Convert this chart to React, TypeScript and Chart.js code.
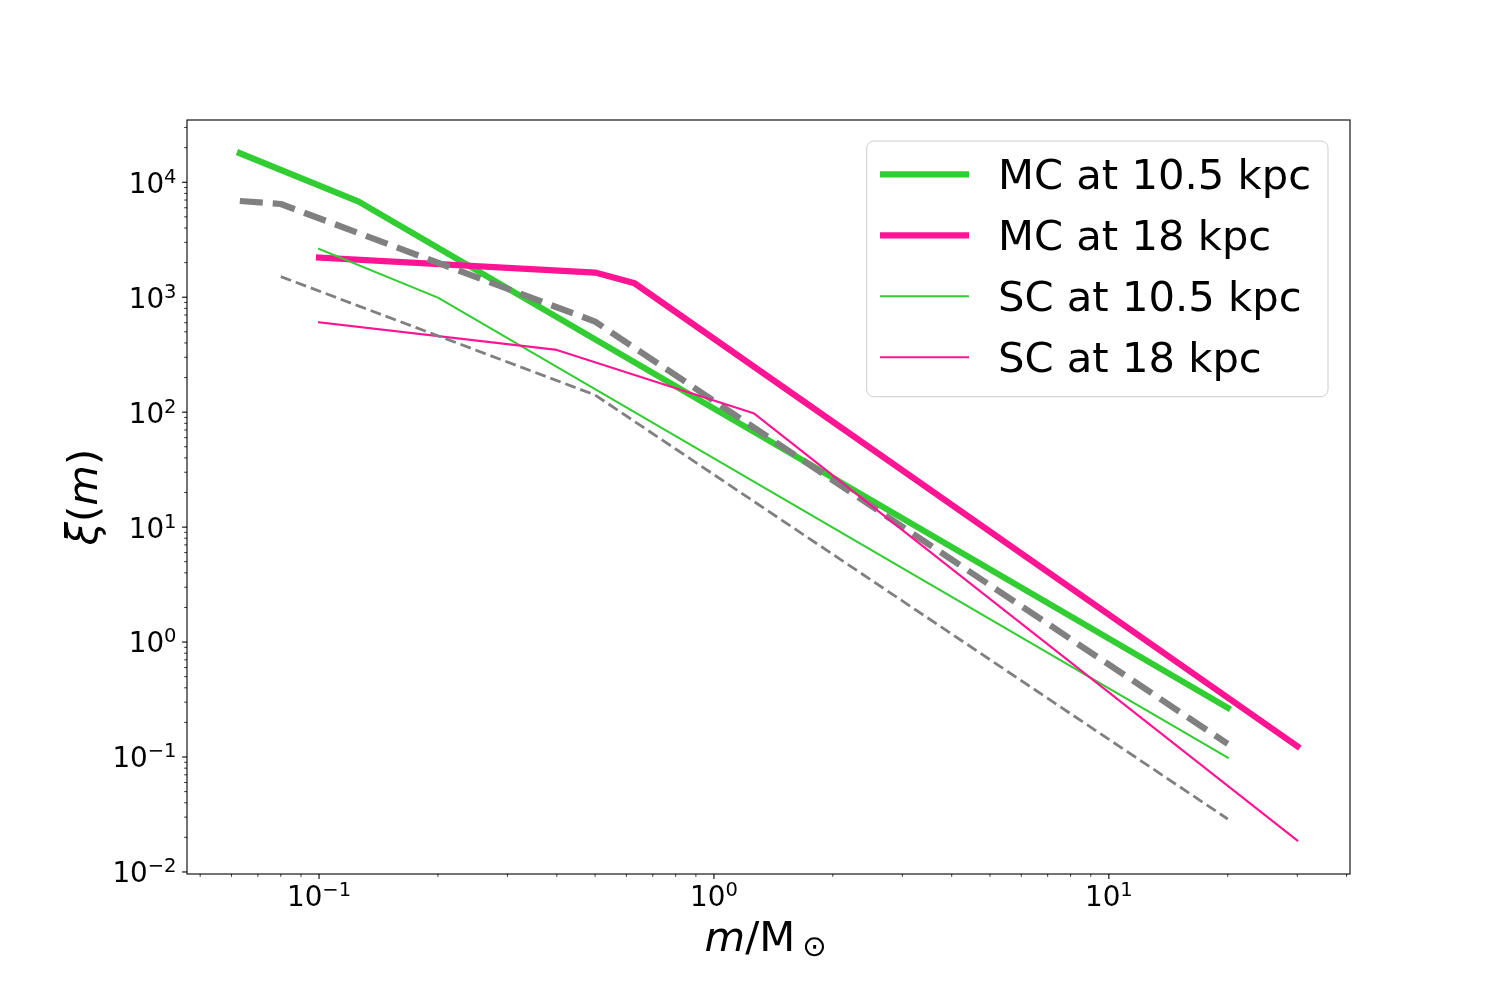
import React, { useEffect, useRef } from 'react';
import { Chart, registerables } from 'chart.js';

Chart.register(...registerables);

// mass (M_sun) and xi(m), vertex by vertex
const mcMass105 = [0.063, 0.126, 20];
const mcXi105 = [17900, 6780, 0.268];

const mcMass18 = [0.1, 0.5, 0.63, 30];
const mcXi18 = [2210, 1640, 1320, 0.124];

const refMassThick = [0.063, 0.08, 0.5, 20];
const refXiThick = [6870, 6470, 614, 0.13];

const scMass105 = [0.1, 0.2, 20];
const scXi105 = [2630, 992, 0.099];

const scMass18 = [0.1, 0.4, 1.26, 30];
const scXi18 = [606, 348, 98, 0.0188];

const refMassThin = [0.08, 0.5, 20];
const refXiThin = [1510, 141, 0.0289];

const legendLabels = ['MC at 10.5 kpc', 'MC at 18 kpc', 'SC at 10.5 kpc', 'SC at 18 kpc'];
const xMajorExps = [-1, 0, 1];
const yMajorExps = [-2, -1, 0, 1, 2, 3, 4];

const X_MIN = 0.0463;
const X_MAX = 40.8;
const Y_MIN = 0.0096;
const Y_MAX = 34800;

const GREEN = '#32cd32';
const PINK = '#ff1493';
const GRAY = '#808080';
const FONT = '"DejaVu Sans", "Liberation Sans", sans-serif';

const toPoints = (xs: number[], ys: number[]) => xs.map((x, i) => ({ x, y: ys[i] }));

const supText = (e: number) => (e < 0 ? '\u2212' + Math.abs(e) : String(e));

function drawPow(ctx: CanvasRenderingContext2D, exp: number, ax: number, base: number, align: 'center' | 'right') {
  ctx.font = `27.8px ${FONT}`;
  const wb = ctx.measureText('10').width;
  ctx.font = `19.5px ${FONT}`;
  const sup = supText(exp);
  const ws = ctx.measureText(sup).width;
  const total = wb + ws;
  const start = align === 'center' ? ax - total / 2 : ax - total;
  ctx.textAlign = 'left';
  ctx.textBaseline = 'alphabetic';
  ctx.font = `27.8px ${FONT}`;
  ctx.fillText('10', start, base);
  ctx.font = `19.5px ${FONT}`;
  ctx.fillText(sup, start + wb, base - 10);
}

const decorPlugin = {
  id: 'decor',
  afterDraw(chart: any) {
    const { ctx, chartArea: a, scales } = chart;
    const xs = scales.x;
    const ys = scales.y;
    ctx.save();
    ctx.strokeStyle = '#000';
    ctx.fillStyle = '#000';

    // ticks, outside the frame
    for (let k = -3; k <= 5; k++) {
      for (let j = 1; j <= 9; j++) {
        const v = j * Math.pow(10, k);
        const len = j === 1 ? 4.9 : 2.8;
        ctx.lineWidth = j === 1 ? 1.1 : 0.8;
        if (v >= X_MIN && v <= X_MAX) {
          const px = xs.getPixelForValue(v);
          ctx.beginPath();
          ctx.moveTo(px, a.bottom);
          ctx.lineTo(px, a.bottom + len);
          ctx.stroke();
        }
        if (v >= Y_MIN && v <= Y_MAX) {
          const py = ys.getPixelForValue(v);
          ctx.beginPath();
          ctx.moveTo(a.left, py);
          ctx.lineTo(a.left - len, py);
          ctx.stroke();
        }
      }
    }

    // frame
    ctx.lineWidth = 1.1;
    ctx.strokeRect(a.left, a.top, a.right - a.left, a.bottom - a.top);

    // tick labels
    xMajorExps.forEach((e) => {
      drawPow(ctx, e, xs.getPixelForValue(Math.pow(10, e)), a.bottom + 31.7, 'center');
    });
    yMajorExps.forEach((e) => {
      drawPow(ctx, e, a.left - 10.5, ys.getPixelForValue(Math.pow(10, e)) + 10.4, 'right');
    });

    // x label: m/M_sun
    const cx = (a.left + a.right) / 2;
    ctx.textAlign = 'left';
    ctx.textBaseline = 'alphabetic';
    ctx.font = `italic 41.7px ${FONT}`;
    const wm = ctx.measureText('m').width;
    ctx.font = `41.7px ${FONT}`;
    const wM = ctx.measureText('/M').width;
    ctx.font = `29px ${FONT}`;
    const wo = ctx.measureText('\u2299').width;
    const gap = 7;
    const x0 = cx - (wm + wM + gap + wo) / 2 - 3;
    const xb = 950.7;
    ctx.font = `italic 41.7px ${FONT}`;
    ctx.fillText('m', x0, xb);
    ctx.font = `41.7px ${FONT}`;
    ctx.fillText('/M', x0 + wm, xb);
    ctx.font = `29px ${FONT}`;
    ctx.fillText('\u2299', x0 + wm + wM + gap, xb + 5.5);

    // y label: xi(m), rotated
    ctx.save();
    ctx.translate(97, (a.top + a.bottom) / 2);
    ctx.rotate(-Math.PI / 2);
    const parts: [string, boolean][] = [['\u03be', true], ['(', false], ['m', true], [')', false]];
    const widths = parts.map(([t, it]) => {
      ctx.font = `${it ? 'italic ' : ''}41.7px ${FONT}`;
      return ctx.measureText(t).width;
    });
    let px = -widths.reduce((s, w) => s + w, 0) / 2;
    parts.forEach(([t, it], i) => {
      ctx.font = `${it ? 'italic ' : ''}41.7px ${FONT}`;
      ctx.fillText(t, px, 0);
      px += widths[i];
    });
    ctx.restore();

    // legend
    const bx = 866.7, by = 141, bw = 461.3, bh = 255.7, r = 7;
    ctx.beginPath();
    ctx.moveTo(bx + r, by);
    ctx.arcTo(bx + bw, by, bx + bw, by + bh, r);
    ctx.arcTo(bx + bw, by + bh, bx, by + bh, r);
    ctx.arcTo(bx, by + bh, bx, by, r);
    ctx.arcTo(bx, by, bx + bw, by, r);
    ctx.closePath();
    ctx.fillStyle = 'rgba(255,255,255,0.8)';
    ctx.fill();
    ctx.strokeStyle = '#cccccc';
    ctx.lineWidth = 1;
    ctx.stroke();

    const handles = [
      { color: GREEN, width: 6.25 },
      { color: PINK, width: 6.25 },
      { color: GREEN, width: 2.1 },
      { color: PINK, width: 2.1 },
    ];
    legendLabels.forEach((label, i) => {
      const cy = 174.3 + i * 61;
      ctx.beginPath();
      ctx.strokeStyle = handles[i].color;
      ctx.lineWidth = handles[i].width;
      ctx.lineCap = 'butt';
      ctx.moveTo(880, cy);
      ctx.lineTo(969, cy);
      ctx.stroke();
      ctx.fillStyle = '#000';
      ctx.font = `41.7px ${FONT}`;
      ctx.textAlign = 'left';
      ctx.fillText(label, 998, cy + 15);
    });

    ctx.restore();
  },
};

const App: React.FC = () => {
  const chartRef = useRef<HTMLCanvasElement | null>(null);
  const chartInstanceRef = useRef<Chart | null>(null);

  useEffect(() => {
    document.body.style.margin = '0';
    if (chartRef.current) {
      const ctx = chartRef.current.getContext('2d');
      if (ctx) {
        const solid = { pointRadius: 0, tension: 0, fill: false, borderJoinStyle: 'round', borderCapStyle: 'square' };
        const dashed = { pointRadius: 0, tension: 0, fill: false, borderJoinStyle: 'round', borderCapStyle: 'butt' };

        chartInstanceRef.current = new Chart(ctx, {
          type: 'line',
          data: {
            datasets: [
              { ...solid, label: legendLabels[0], data: toPoints(mcMass105, mcXi105), borderColor: GREEN, borderWidth: 6.25, order: 6 },
              { ...solid, label: legendLabels[1], data: toPoints(mcMass18, mcXi18), borderColor: PINK, borderWidth: 6.25, order: 5 },
              { ...dashed, label: 'ref thick', data: toPoints(refMassThick, refXiThick), borderColor: GRAY, borderWidth: 6.25, borderDash: [23, 10], order: 4 },
              { ...solid, label: legendLabels[2], data: toPoints(scMass105, scXi105), borderColor: GREEN, borderWidth: 2.1, order: 3 },
              { ...solid, label: legendLabels[3], data: toPoints(scMass18, scXi18), borderColor: PINK, borderWidth: 2.1, order: 2 },
              { ...dashed, label: 'ref thin', data: toPoints(refMassThin, refXiThin), borderColor: GRAY, borderWidth: 2.8, borderDash: [11, 5], order: 1 },
            ] as any,
          },
          options: {
            responsive: false,
            animation: false,
            devicePixelRatio: 1,
            events: [],
            layout: { padding: { left: 187, top: 120, right: 150, bottom: 126 } },
            scales: {
              x: { type: 'logarithmic', min: X_MIN, max: X_MAX, display: false },
              y: { type: 'logarithmic', min: Y_MIN, max: Y_MAX, display: false },
            },
            plugins: {
              legend: { display: false },
              tooltip: { enabled: false },
              title: { display: false },
            },
          },
          plugins: [decorPlugin],
        });
      }
    }

    return () => {
      if (chartInstanceRef.current) {
        chartInstanceRef.current.destroy();
      }
    };
  }, []);

  return (
    <div style={{ position: 'absolute', left: 0, top: 0, width: 1500, height: 1000, background: '#fff' }}>
      <canvas ref={chartRef} width={1500} height={1000} style={{ width: 1500, height: 1000 }} />
    </div>
  );
};

export default App;
